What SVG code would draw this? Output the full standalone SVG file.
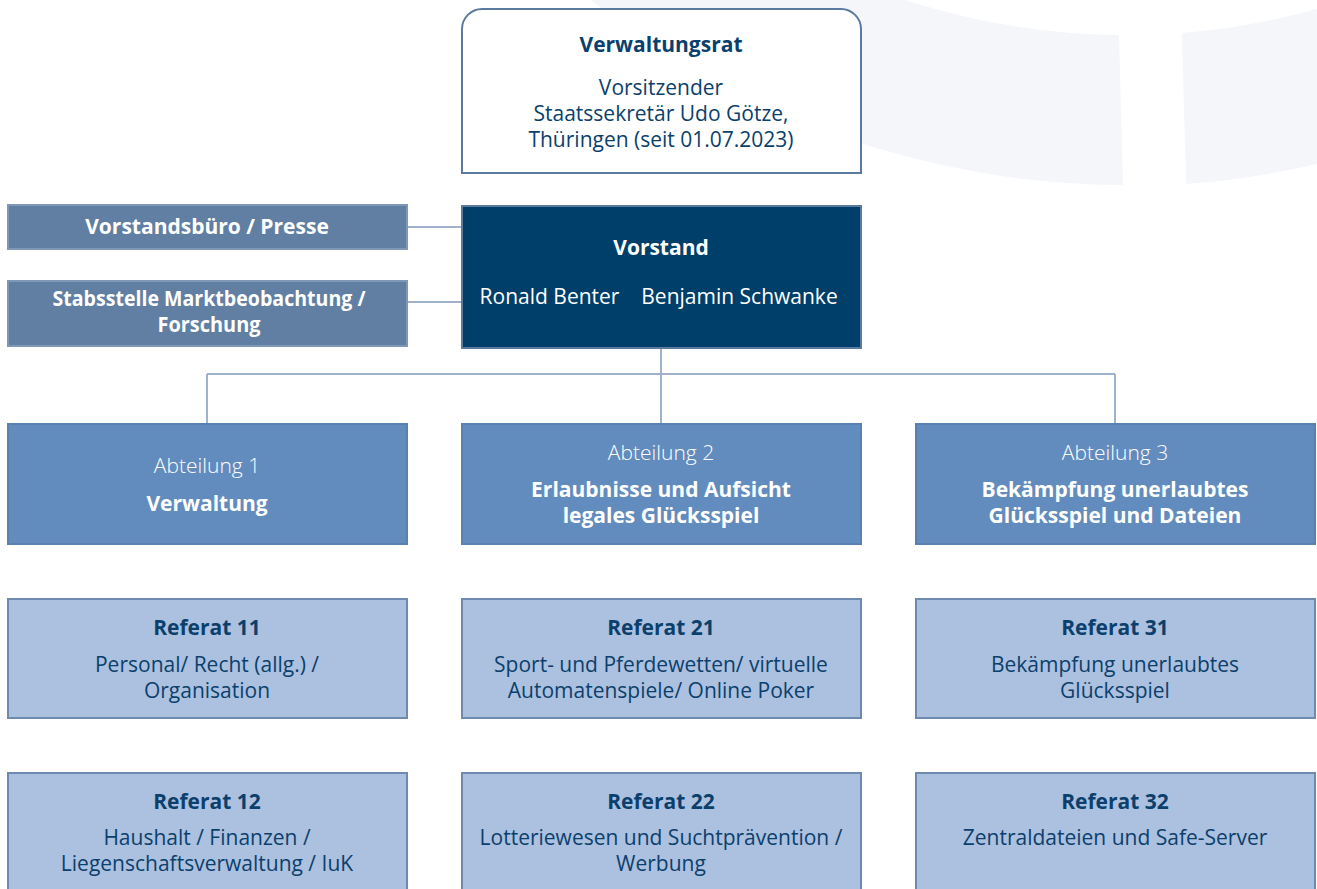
<svg xmlns="http://www.w3.org/2000/svg" width="1317" height="889" viewBox="0 0 1317 889">
<style>
  text { font-family: "Open Sans", "Liberation Sans", sans-serif; font-size: 21px; text-anchor: middle; }
  .b { font-weight: 700; }
  .l { font-weight: 300; }
  .navy { fill: #0b3f6c; }
  .white { fill: #ffffff; }
  .bg { fill: #f4f6fa; }
  .ref rect { fill: #abc1df; stroke: #6e8ab0; stroke-width: 2; }
  .abt rect { fill: #628cbd; stroke: #5a80b0; stroke-width: 2; }
  .stab rect { fill: #617fa2; stroke: #7f98b8; stroke-width: 2; }
  .conn line { stroke: #9fb1cb; stroke-width: 2; }
</style>

<g id="background">
  <path class="bg" d="M591,0 A869,869 0 0 0 1123,185 L1119,35 A719,719 0 0 1 905,0 Z"/>
  <path class="bg" d="M1182,33 L1186,184 A869,869 0 0 0 1317,164 L1317,9 A719,719 0 0 1 1182,33 Z"/>
</g>

<g id="connectors" class="conn">
  <line x1="407" y1="227" x2="462" y2="227"/>
  <line x1="407" y1="302" x2="462" y2="302"/>
  <line x1="661" y1="348" x2="661" y2="424"/>
  <line x1="207" y1="374" x2="1115" y2="374"/>
  <line x1="207" y1="374" x2="207" y2="424"/>
  <line x1="1115" y1="374" x2="1115" y2="424"/>
</g>

<g id="verwaltungsrat">
  <path d="M462,173 V29 A20,20 0 0 1 482,9 H841 A20,20 0 0 1 861,29 V173 Z" fill="#ffffff" stroke="#5b7aa1" stroke-width="2"/>
  <text class="b navy" x="661" y="52">Verwaltungsrat</text>
  <text class="navy" x="661" y="95">Vorsitzender</text>
  <text class="navy" x="661" y="121">Staatssekretär Udo Götze,</text>
  <text class="navy" x="661" y="147">Thüringen (seit 01.07.2023)</text>
</g>

<g id="vorstandsbuero" class="stab">
  <rect x="8" y="205" width="399" height="44"/>
  <text class="b white" x="207" y="234">Vorstandsbüro / Presse</text>
</g>

<g id="stabsstelle" class="stab">
  <rect x="8" y="281" width="399" height="65"/>
  <text class="b white" x="209" y="306" textLength="313" lengthAdjust="spacingAndGlyphs">Stabsstelle Marktbeobachtung /</text>
  <text class="b white" x="209" y="332" textLength="103" lengthAdjust="spacingAndGlyphs">Forschung</text>
</g>

<g id="vorstand">
  <rect x="462" y="206" width="399" height="142" fill="#003f69" stroke="#5a7aa0" stroke-width="2"/>
  <text class="b white" x="661" y="255">Vorstand</text>
  <text class="white" x="549.5" y="304">Ronald Benter</text>
  <text class="white" x="739.5" y="304">Benjamin Schwanke</text>
</g>

<g id="abteilung1" class="abt">
  <rect x="8" y="424" width="399" height="120"/>
  <text class="l white" x="207" y="473">Abteilung 1</text>
  <text class="b white" x="207" y="511">Verwaltung</text>
</g>

<g id="abteilung2" class="abt">
  <rect x="462" y="424" width="399" height="120"/>
  <text class="l white" x="661" y="460">Abteilung 2</text>
  <text class="b white" x="661" y="497">Erlaubnisse und Aufsicht</text>
  <text class="b white" x="661" y="523">legales Glücksspiel</text>
</g>

<g id="abteilung3" class="abt">
  <rect x="916" y="424" width="399" height="120"/>
  <text class="l white" x="1115" y="460">Abteilung 3</text>
  <text class="b white" x="1115" y="497">Bekämpfung unerlaubtes</text>
  <text class="b white" x="1115" y="523">Glücksspiel und Dateien</text>
</g>

<g id="referat11" class="ref">
  <rect x="8" y="599" width="399" height="119"/>
  <text class="b navy" x="207" y="635">Referat 11</text>
  <text class="navy" x="207" y="672">Personal/ Recht (allg.) /</text>
  <text class="navy" x="207" y="698">Organisation</text>
</g>

<g id="referat21" class="ref">
  <rect x="462" y="599" width="399" height="119"/>
  <text class="b navy" x="661" y="635">Referat 21</text>
  <text class="navy" x="661" y="672">Sport- und Pferdewetten/ virtuelle</text>
  <text class="navy" x="661" y="698">Automatenspiele/ Online Poker</text>
</g>

<g id="referat31" class="ref">
  <rect x="916" y="599" width="399" height="119"/>
  <text class="b navy" x="1115" y="635">Referat 31</text>
  <text class="navy" x="1115" y="672">Bekämpfung unerlaubtes</text>
  <text class="navy" x="1115" y="698">Glücksspiel</text>
</g>

<g id="referat12" class="ref">
  <rect x="8" y="773" width="399" height="125"/>
  <text class="b navy" x="207" y="809">Referat 12</text>
  <text class="navy" x="207" y="845">Haushalt / Finanzen /</text>
  <text class="navy" x="207" y="871">Liegenschaftsverwaltung / IuK</text>
</g>

<g id="referat22" class="ref">
  <rect x="462" y="773" width="399" height="125"/>
  <text class="b navy" x="661" y="809">Referat 22</text>
  <text class="navy" x="661" y="845">Lotteriewesen und Suchtprävention /</text>
  <text class="navy" x="661" y="871">Werbung</text>
</g>

<g id="referat32" class="ref">
  <rect x="916" y="773" width="399" height="125"/>
  <text class="b navy" x="1115" y="809">Referat 32</text>
  <text class="navy" x="1115" y="845">Zentraldateien und Safe-Server</text>
</g>
</svg>
